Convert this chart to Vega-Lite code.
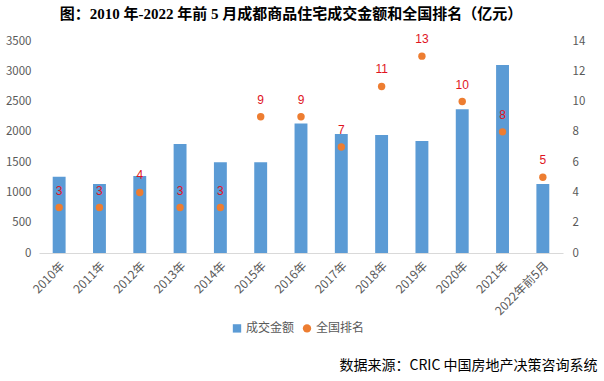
{
  "$schema": "https://vega.github.io/schema/vega-lite/v6.json",
  "autosize": {"type": "none"},
  "width": 524,
  "height": 212,
  "padding": {"left": 39, "top": 41, "right": 41, "bottom": 128},
  "background": "white",
  "title": {
    "text": "图：2010 年-2022 年前 5 月成都商品住宅成交金额和全国排名（亿元）",
    "font": "Liberation Serif, Noto Sans CJK SC",
    "fontSize": 15,
    "fontWeight": "bold",
    "color": "#000000",
    "anchor": "middle",
    "offset": 11,
    "dx": -10
  },
  "data": {
    "values": [
      {"year": "2010年", "amount": 1260, "rank": 3},
      {"year": "2011年", "amount": 1140, "rank": 3},
      {"year": "2012年", "amount": 1270, "rank": 4},
      {"year": "2013年", "amount": 1800, "rank": 3},
      {"year": "2014年", "amount": 1500, "rank": 3},
      {"year": "2015年", "amount": 1500, "rank": 9},
      {"year": "2016年", "amount": 2140, "rank": 9},
      {"year": "2017年", "amount": 1965, "rank": 7},
      {"year": "2018年", "amount": 1950, "rank": 11},
      {"year": "2019年", "amount": 1850, "rank": 13},
      {"year": "2020年", "amount": 2375, "rank": 10},
      {"year": "2021年", "amount": 3105, "rank": 8},
      {"year": "2022年前5月", "amount": 1140, "rank": 5}
    ]
  },
  "encoding": {
    "x": {
      "field": "year",
      "type": "nominal",
      "sort": null,
      "scale": {"paddingInner": 0, "paddingOuter": 0},
      "axis": {
        "title": "数据来源：CRIC 中国房地产决策咨询系统",
        "titleFont": "Noto Sans CJK SC",
        "titleFontSize": 14,
        "titleFontWeight": "normal",
        "titleColor": "#000000",
        "titleAnchor": "end",
        "titleAlign": "right",
        "titleX": 558,
        "titleY": 112,
        "titleBaseline": "middle",
        "labelAngle": -45,
        "labelFontSize": 12,
        "labelColor": "#595959",
        "labelFont": "Noto Sans CJK SC",
        "ticks": false,
        "labelPadding": 7,
        "domainColor": "#D9D9D9",
        "domainWidth": 1
      }
    }
  },
  "layer": [
    {
      "mark": {"type": "bar", "width": {"band": 0.32}},
      "encoding": {
        "y": {
          "field": "amount",
          "type": "quantitative",
          "scale": {"domain": [0, 3500]},
          "axis": {
            "title": null,
            "orient": "left",
            "format": "d",
            "values": [0, 500, 1000, 1500, 2000, 2500, 3000, 3500],
            "grid": false,
            "domain": false,
            "ticks": false,
            "labelPadding": 8,
            "labelFontSize": 11.5,
            "labelColor": "#595959",
            "labelFont": "Noto Sans CJK SC"
          }
        },
        "color": {
          "datum": "成交金额",
          "scale": {"domain": ["成交金额", "全国排名"], "range": ["#5B9BD5", "#ED7D31"]},
          "legend": {
            "symbolType": "square",
            "encode": {
              "symbols": {
                "update": {
                  "shape": {"signal": "datum.value === '成交金额' ? 'square' : 'circle'"},
                  "fill": {"signal": "datum.value === '成交金额' ? '#5B9BD5' : '#ED7D31'"},
                  "stroke": {"value": "transparent"},
                  "opacity": {"value": 1}
                }
              }
            }
          }
        }
      }
    },
    {
      "encoding": {
        "y": {
          "field": "rank",
          "type": "quantitative",
          "scale": {"domain": [0, 14]},
          "axis": {
            "title": null,
            "orient": "right",
            "values": [0, 2, 4, 6, 8, 10, 12, 14],
            "grid": false,
            "domain": false,
            "ticks": false,
            "labelPadding": 9,
            "labelFontSize": 11.5,
            "labelColor": "#595959",
            "labelFont": "Noto Sans CJK SC"
          }
        }
      },
      "layer": [
        {
          "mark": {"type": "circle", "size": 55, "opacity": 1},
          "encoding": {
            "color": {"datum": "全国排名"}
          }
        },
        {
          "mark": {"type": "text", "dy": -17, "fontSize": 12, "fontWeight": "normal", "color": "#E0141E", "font": "Liberation Sans"},
          "encoding": {"text": {"field": "rank", "type": "quantitative"}}
        }
      ]
    }
  ],
  "resolve": {"scale": {"y": "independent"}},
  "config": {
    "view": {"stroke": null},
    "legend": {
      "orient": "none",
      "legendX": 192,
      "legendY": 281,
      "direction": "horizontal",
      "title": null,
      "labelFontSize": 12,
      "labelColor": "#595959",
      "labelFont": "Noto Sans CJK SC",
      "symbolSize": 70,
      "columnPadding": 4,
      "labelOffset": 3
    }
  }
}
